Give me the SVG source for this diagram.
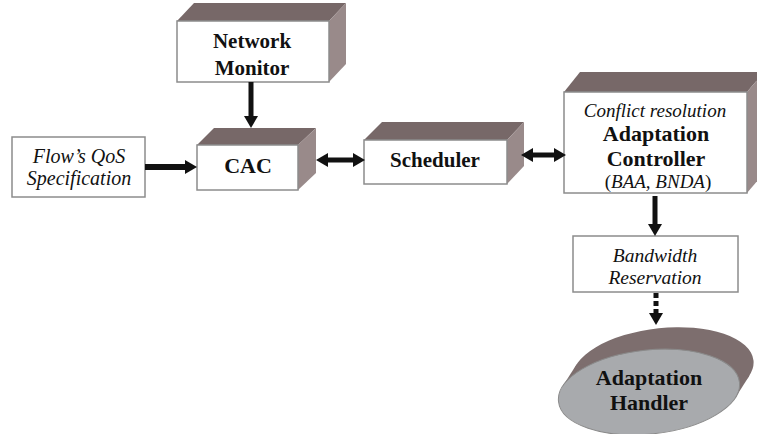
<svg xmlns="http://www.w3.org/2000/svg" width="757" height="434" viewBox="0 0 757 434">
<style>
.front{fill:#ffffff;stroke:#8c8c8c;stroke-width:1.5}
.top{fill:#776868;stroke:none}
.side{fill:#998a8a;stroke:none}
.plain{fill:#ffffff;stroke:#8c8c8c;stroke-width:1.5}
.b{font-family:'Liberation Serif','Times New Roman',Tinos,'DejaVu Serif',serif;font-weight:bold;fill:#111;text-anchor:middle}
.i{font-family:'Liberation Serif','Times New Roman',Tinos,'DejaVu Serif',serif;font-style:italic;fill:#111;text-anchor:middle}
.arr{stroke:#111;fill:none}
.back{fill:#7d6e6e}
</style>
<defs>
<marker id="ah" viewBox="0 0 12 14" refX="4" refY="7" markerWidth="12" markerHeight="14" markerUnits="userSpaceOnUse" orient="auto-start-reverse">
<path d="M0,0 L12,7 L0,14 z" fill="#111"/>
</marker>
</defs>
<g id="network-monitor">
<polygon class="top" points="177,21 194,3 346,3 329,21"/>
<polygon class="side" points="329,21 346,3 346,64 329,82"/>
<rect class="front" x="177" y="21" width="152" height="61"/>
<text class="b" x="252" y="48" font-size="21" font-family="Liberation Serif, serif">Network</text>
<text class="b" x="252" y="75" font-size="21" font-family="Liberation Serif, serif">Monitor</text>
</g>
<g id="cac">
<polygon class="top" points="197,145 214,128 316,128 298,145"/>
<polygon class="side" points="298,145 316,128 316,173 298,190"/>
<rect class="front" x="197" y="145" width="101" height="45"/>
<text class="b" x="248" y="173" font-size="22">CAC</text>
</g>
<g id="scheduler">
<polygon class="top" points="364,140 382,122 524,122 507,140"/>
<polygon class="side" points="507,140 524,122 524,166 507,184"/>
<rect class="front" x="364" y="140" width="143" height="44"/>
<text class="b" x="435" y="167" font-size="21">Scheduler</text>
</g>
<g id="adaptation-controller">
<polygon class="top" points="564,92 580,72 764,72 747,92"/>
<polygon class="side" points="747,92 764,72 764,173 747,193"/>
<rect class="front" x="564" y="92" width="183" height="101"/>
<text class="i" x="655" y="117" font-size="19">Conflict resolution</text>
<text class="b" x="656" y="141" font-size="22">Adaptation</text>
<text class="b" x="656" y="166" font-size="22">Controller</text>
<text class="i" x="658" y="188" font-size="19"><tspan font-style="normal">(</tspan>BAA, BNDA<tspan font-style="normal">)</tspan></text>
</g>
<g id="flow-qos">
<rect class="plain" x="12" y="137" width="133" height="60"/>
<text class="i" x="79" y="163" font-size="20">Flow’s QoS</text>
<text class="i" x="79" y="185" font-size="20">Specification</text>
</g>
<g id="bandwidth-reservation">
<rect class="plain" x="573" y="236" width="165" height="56"/>
<text class="i" x="655" y="262" font-size="19.5">Bandwidth</text>
<text class="i" x="655" y="284" font-size="19.5">Reservation</text>
</g>
<g id="adaptation-handler">
<ellipse class="back" cx="663" cy="370" rx="91" ry="42" transform="rotate(-6 663 370)"/>
<polygon class="back" points="562.5,386.5 735.5,397.5 749.5,375.5 576.5,364.5"/>
<ellipse cx="649" cy="392" rx="91" ry="42" transform="rotate(-6 649 392)" fill="#a8aaad" stroke="#8a8a8a" stroke-width="1"/>
<text class="b" x="649" y="385" font-size="22" fill="#222">Adaptation</text>
<text class="b" x="649" y="410" font-size="22" fill="#222">Handler</text>
</g>
<g id="connectors">
<line class="arr" x1="145" y1="167" x2="189" y2="167" stroke-width="6" marker-end="url(#ah)"/>
<line class="arr" x1="251" y1="82" x2="251" y2="120" stroke-width="5" marker-end="url(#ah)"/>
<line class="arr" x1="324" y1="160" x2="357" y2="160" stroke-width="5" marker-start="url(#ah)" marker-end="url(#ah)"/>
<line class="arr" x1="529" y1="155" x2="558" y2="155" stroke-width="5" marker-start="url(#ah)" marker-end="url(#ah)"/>
<line class="arr" x1="655" y1="196" x2="655" y2="228" stroke-width="5" marker-end="url(#ah)"/>
<line class="arr" x1="656" y1="293" x2="656" y2="317" stroke-width="5" stroke-dasharray="5 3" marker-end="url(#ah)"/>
</g>
</svg>
